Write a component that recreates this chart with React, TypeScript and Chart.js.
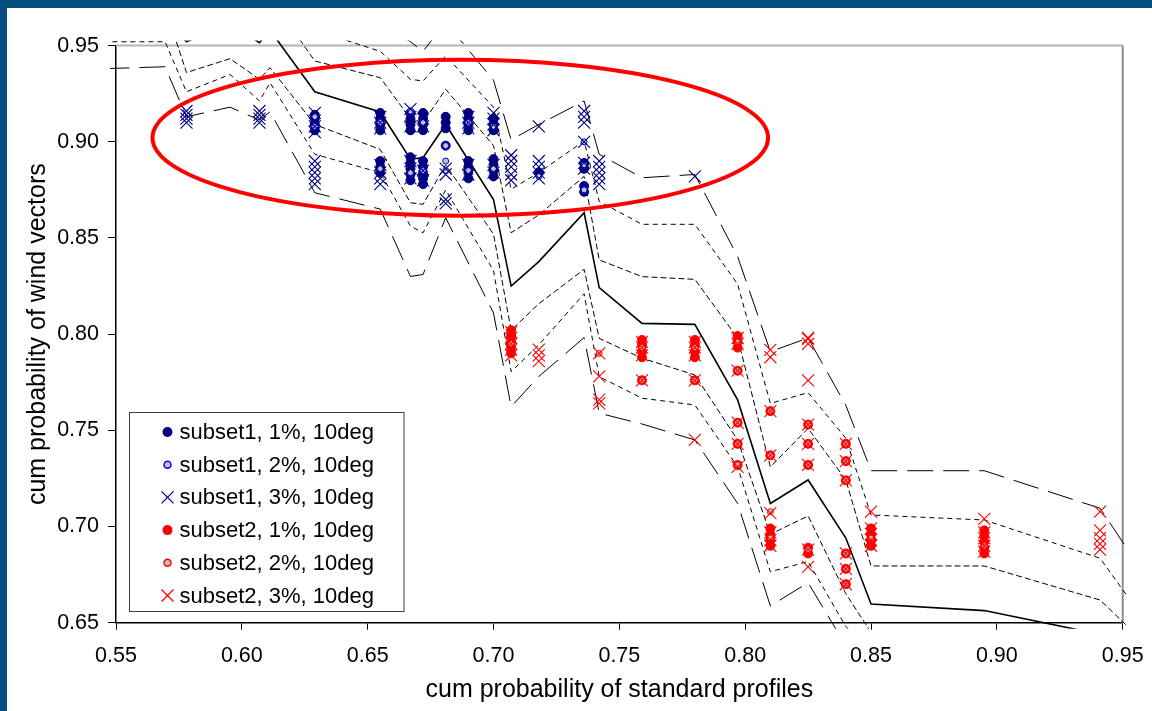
import React, { useEffect, useRef } from 'react';
import { Chart, registerables } from 'chart.js';

Chart.register(...registerables);

const FONT = '"Liberation Sans", Arial, Helvetica, sans-serif';

// ---- axes ----
const xTickValues = [0.55, 0.6, 0.65, 0.7, 0.75, 0.8, 0.85, 0.9, 0.95];
const yTickValues = [0.65, 0.7, 0.75, 0.8, 0.85, 0.9, 0.95];
const xTitle = 'cum probability of standard profiles';
const yTitle = 'cum probability of wind vectors';

// ---- band lines (standard profiles) ----
const lineX = [0.545, 0.5695, 0.578, 0.5953, 0.607, 0.6112, 0.629, 0.655, 0.667, 0.672, 0.681, 0.7, 0.707, 0.718, 0.736, 0.742, 0.759, 0.78, 0.797, 0.81, 0.825, 0.84, 0.85, 0.895, 0.941, 0.952];
const lineCenter = [0.975, 0.965, 0.952, 0.962, 0.9515, 0.958, 0.926, 0.9155, 0.891, 0.8917, 0.909, 0.87, 0.825, 0.8377, 0.8631, 0.8242, 0.8056, 0.8051, 0.7658, 0.712, 0.7242, 0.694, 0.6597, 0.6563, 0.644, 0.64];
const lineUpper1 = [0.99, 0.985, 0.97, 0.978, 0.97, 0.975, 0.942, 0.9333, 0.912, 0.91, 0.9273, 0.898, 0.8527, 0.862, 0.882, 0.8386, 0.8299, 0.8285, 0.798, 0.731, 0.751, 0.7242, 0.6795, 0.6795, 0.6618, 0.648];
const lineUpper2 = [1.0, 1.0, 0.985, 0.99, 0.985, 0.99, 0.958, 0.947, 0.9325, 0.9316, 0.9446, 0.918, 0.8753, 0.884, 0.9004, 0.869, 0.8571, 0.8571, 0.826, 0.764, 0.7696, 0.7459, 0.706, 0.7034, 0.6835, 0.6635];
const lineUpper3 = [1.02, 1.01, 1.0, 1.0, 0.99, 0.99, 0.975, 0.962, 0.952, 0.947, 0.962, 0.932, 0.901, 0.909, 0.9212, 0.8935, 0.8813, 0.883, 0.8403, 0.7909, 0.798, 0.763, 0.729, 0.729, 0.7095, 0.688];
const lineLower1 = [0.975, 0.97, 0.936, 0.9432, 0.9325, 0.9385, 0.909, 0.896, 0.8683, 0.8675, 0.888, 0.852, 0.802, 0.8158, 0.8337, 0.7978, 0.7875, 0.7788, 0.745, 0.696, 0.7055, 0.665, 0.645, 0.64, 0.62, 0.61];
const lineLower2 = [0.952, 0.952, 0.926, 0.935, 0.9212, 0.9307, 0.8935, 0.884, 0.8562, 0.8527, 0.875, 0.833, 0.7805, 0.7944, 0.821, 0.7779, 0.7667, 0.7632, 0.731, 0.6765, 0.6818, 0.648, 0.635, 0.63, 0.61, 0.6];
const lineLower3 = [0.938, 0.939, 0.913, 0.918, 0.9113, 0.9156, 0.8735, 0.865, 0.83, 0.831, 0.8605, 0.811, 0.7623, 0.778, 0.7982, 0.7589, 0.7533, 0.745, 0.712, 0.6587, 0.6708, 0.638, 0.62, 0.615, 0.6, 0.59];

// ---- scatter series ----
const subset1_1pct: [number, number][] = [
  [0.629, 0.906], [0.629, 0.909], [0.629, 0.912], [0.629, 0.914],
  [0.655, 0.906], [0.655, 0.909], [0.655, 0.912], [0.655, 0.915], [0.655, 0.884], [0.655, 0.887], [0.655, 0.89],
  [0.667, 0.906], [0.667, 0.909], [0.667, 0.912], [0.667, 0.915], [0.667, 0.88], [0.667, 0.883], [0.667, 0.886], [0.667, 0.889], [0.667, 0.892],
  [0.672, 0.906], [0.672, 0.909], [0.672, 0.912], [0.672, 0.915], [0.672, 0.878], [0.672, 0.881], [0.672, 0.884], [0.672, 0.887], [0.672, 0.89],
  [0.681, 0.907], [0.681, 0.91], [0.681, 0.913], [0.681, 0.898],
  [0.69, 0.906], [0.69, 0.909], [0.69, 0.912], [0.69, 0.915], [0.69, 0.881], [0.69, 0.884], [0.69, 0.887], [0.69, 0.89],
  [0.7, 0.906], [0.7, 0.909], [0.7, 0.912], [0.7, 0.882], [0.7, 0.885], [0.7, 0.888], [0.7, 0.891],
  [0.718, 0.884], [0.736, 0.886], [0.736, 0.889], [0.736, 0.874], [0.736, 0.877],
];
const subset1_2pct: [number, number][] = [
  [0.629, 0.908], [0.629, 0.913], [0.655, 0.91], [0.655, 0.886], [0.667, 0.916], [0.667, 0.884],
  [0.672, 0.91], [0.672, 0.885], [0.681, 0.898], [0.681, 0.89], [0.681, 0.885], [0.69, 0.91], [0.69, 0.885],
  [0.7, 0.908], [0.7, 0.886], [0.718, 0.882], [0.736, 0.9], [0.736, 0.888], [0.736, 0.875],
];
const subset1_3pct: [number, number][] = [
  [0.578, 0.91], [0.578, 0.912], [0.578, 0.914], [0.578, 0.916],
  [0.607, 0.91], [0.607, 0.912], [0.607, 0.914], [0.607, 0.916],
  [0.629, 0.905], [0.629, 0.908], [0.629, 0.911], [0.629, 0.915], [0.629, 0.878], [0.629, 0.881], [0.629, 0.884], [0.629, 0.887], [0.629, 0.89],
  [0.655, 0.907], [0.655, 0.91], [0.655, 0.913], [0.655, 0.878], [0.655, 0.881], [0.655, 0.884], [0.655, 0.888],
  [0.667, 0.917], [0.667, 0.913], [0.667, 0.908], [0.667, 0.881], [0.667, 0.886], [0.667, 0.89],
  [0.672, 0.908], [0.672, 0.912], [0.672, 0.88], [0.672, 0.885],
  [0.681, 0.886], [0.681, 0.883], [0.681, 0.87], [0.681, 0.868],
  [0.69, 0.907], [0.69, 0.91], [0.69, 0.913], [0.69, 0.883], [0.69, 0.888],
  [0.7, 0.906], [0.7, 0.909], [0.7, 0.912], [0.7, 0.915], [0.7, 0.884], [0.7, 0.888],
  [0.707, 0.88], [0.707, 0.883], [0.707, 0.887], [0.707, 0.89], [0.707, 0.893],
  [0.718, 0.908], [0.718, 0.881], [0.718, 0.884], [0.718, 0.887], [0.718, 0.89],
  [0.736, 0.91], [0.736, 0.913], [0.736, 0.916], [0.736, 0.9], [0.736, 0.886], [0.736, 0.889],
  [0.742, 0.878], [0.742, 0.881], [0.742, 0.884], [0.742, 0.887], [0.742, 0.89],
  [0.78, 0.882],
];
const subset2_1pct: [number, number][] = [
  [0.707, 0.79], [0.707, 0.793], [0.707, 0.796], [0.707, 0.799], [0.707, 0.802],
  [0.759, 0.788], [0.759, 0.791], [0.759, 0.794], [0.759, 0.797], [0.759, 0.776],
  [0.78, 0.788], [0.78, 0.791], [0.78, 0.794], [0.78, 0.797], [0.78, 0.776],
  [0.797, 0.793], [0.797, 0.796], [0.797, 0.799], [0.797, 0.781], [0.797, 0.754], [0.797, 0.743], [0.797, 0.732],
  [0.81, 0.76], [0.81, 0.737], [0.81, 0.69], [0.81, 0.693], [0.81, 0.696], [0.81, 0.699],
  [0.825, 0.753], [0.825, 0.743], [0.825, 0.732], [0.825, 0.686], [0.825, 0.689],
  [0.84, 0.743], [0.84, 0.734], [0.84, 0.724], [0.84, 0.686], [0.84, 0.678], [0.84, 0.67],
  [0.85, 0.69], [0.85, 0.693], [0.85, 0.696], [0.85, 0.699],
  [0.895, 0.686], [0.895, 0.689], [0.895, 0.692], [0.895, 0.695], [0.895, 0.698],
];
const subset2_2pct: [number, number][] = [
  [0.707, 0.795], [0.742, 0.79], [0.759, 0.793], [0.759, 0.776], [0.78, 0.793], [0.78, 0.776],
  [0.797, 0.796], [0.797, 0.781], [0.797, 0.754], [0.797, 0.743], [0.797, 0.732],
  [0.81, 0.7077], [0.81, 0.76], [0.81, 0.737], [0.81, 0.694],
  [0.825, 0.753], [0.825, 0.743], [0.825, 0.732], [0.825, 0.688],
  [0.84, 0.743], [0.84, 0.734], [0.84, 0.724], [0.84, 0.686], [0.84, 0.678], [0.84, 0.67],
  [0.85, 0.694], [0.895, 0.69],
];
const subset2_3pct: [number, number][] = [
  [0.707, 0.789], [0.707, 0.792], [0.707, 0.795], [0.707, 0.798], [0.707, 0.801],
  [0.718, 0.786], [0.718, 0.789], [0.718, 0.792],
  [0.742, 0.79], [0.742, 0.778], [0.742, 0.764], [0.742, 0.766],
  [0.759, 0.789], [0.759, 0.793], [0.759, 0.796], [0.759, 0.776],
  [0.78, 0.789], [0.78, 0.793], [0.78, 0.796], [0.78, 0.776], [0.78, 0.745],
  [0.797, 0.795], [0.797, 0.798], [0.797, 0.781], [0.797, 0.754], [0.797, 0.743], [0.797, 0.731],
  [0.81, 0.7918], [0.81, 0.788], [0.81, 0.76], [0.81, 0.737], [0.81, 0.707], [0.81, 0.69], [0.81, 0.693], [0.81, 0.697],
  [0.825, 0.798], [0.825, 0.795], [0.825, 0.7975], [0.825, 0.776], [0.825, 0.753], [0.825, 0.743], [0.825, 0.732], [0.825, 0.688], [0.825, 0.679],
  [0.84, 0.743], [0.84, 0.734], [0.84, 0.724], [0.84, 0.686], [0.84, 0.678], [0.84, 0.67],
  [0.85, 0.7077], [0.85, 0.69], [0.85, 0.693], [0.85, 0.696], [0.85, 0.699],
  [0.895, 0.704], [0.895, 0.687], [0.895, 0.69], [0.895, 0.694], [0.895, 0.697],
  [0.941, 0.7077], [0.941, 0.698], [0.941, 0.694], [0.941, 0.691], [0.941, 0.688],
];

const legendLabels = [
  'subset1, 1%, 10deg',
  'subset1, 2%, 10deg',
  'subset1, 3%, 10deg',
  'subset2, 1%, 10deg',
  'subset2, 2%, 10deg',
  'subset2, 3%, 10deg',
];

// highlight ellipse, in data units
const ellipseCenterX = 0.6868;
const ellipseCenterY = 0.9021;
const ellipseRadiusX = 0.1223;
const ellipseRadiusY = 0.0405;

const NAVY = '#000080';
const BLUE = '#0000FF';
const RED = '#FF0000';
const GREY = '#C0C0C0';
const FRAME = '#004F7C';

const toPts = (pairs: [number, number][]) => pairs.map(([x, y]) => ({ x, y }));
const linePts = (ys: number[]) => lineX.map((x, i) => ({ x, y: ys[i] }));

type MarkerKind = 'dot' | 'ring' | 'x';
const legendMarkers: { kind: MarkerKind; color: string }[] = [
  { kind: 'dot', color: NAVY },
  { kind: 'ring', color: BLUE },
  { kind: 'x', color: NAVY },
  { kind: 'dot', color: RED },
  { kind: 'ring', color: RED },
  { kind: 'x', color: RED },
];

const framePlugin = {
  id: 'plotFrame',
  beforeDatasetsDraw(chart: any) {
    const { ctx, chartArea } = chart;
    ctx.save();
    ctx.lineWidth = 2;
    ctx.strokeStyle = '#B4B4B4';
    ctx.beginPath();
    ctx.moveTo(chartArea.left, chartArea.top);
    ctx.lineTo(chartArea.right, chartArea.top);
    ctx.stroke();
    ctx.strokeStyle = '#8C8C8C';
    ctx.beginPath();
    ctx.moveTo(chartArea.right, chartArea.top);
    ctx.lineTo(chartArea.right, chartArea.bottom);
    ctx.stroke();
    ctx.restore();
  },
};

const ellipsePlugin = {
  id: 'highlightEllipse',
  afterDatasetsDraw(chart: any) {
    const { ctx } = chart;
    const xs = chart.scales.x;
    const ys = chart.scales.y;
    const cx = xs.getPixelForValue(ellipseCenterX);
    const cy = ys.getPixelForValue(ellipseCenterY);
    const rx = xs.getPixelForValue(ellipseCenterX + ellipseRadiusX) - cx;
    const ry = cy - ys.getPixelForValue(ellipseCenterY + ellipseRadiusY);
    ctx.save();
    ctx.strokeStyle = RED;
    ctx.lineWidth = 4;
    ctx.beginPath();
    ctx.ellipse(cx, cy, rx, ry, 0, 0, Math.PI * 2);
    ctx.stroke();
    ctx.restore();
  },
};

const legendPlugin = {
  id: 'insideLegend',
  afterDraw(chart: any) {
    const { ctx, chartArea } = chart;
    const left = chartArea.left + 13.5;
    const top = 412.5;
    const w = 274.5;
    const h = 199;
    ctx.save();
    ctx.fillStyle = '#FFFFFF';
    ctx.fillRect(left, top, w, h);
    ctx.strokeStyle = '#3C3C3C';
    ctx.lineWidth = 1;
    ctx.strokeRect(left, top, w, h);
    ctx.font = `22px ${FONT}`;
    ctx.textBaseline = 'middle';
    ctx.textAlign = 'left';
    legendLabels.forEach((label, i) => {
      const y = top + 19.5 + i * 32.7;
      const mx = left + 38;
      const m = legendMarkers[i];
      if (m.kind === 'dot') {
        ctx.fillStyle = m.color;
        ctx.beginPath();
        ctx.arc(mx, y, 5, 0, Math.PI * 2);
        ctx.fill();
      } else if (m.kind === 'ring') {
        ctx.fillStyle = GREY;
        ctx.strokeStyle = m.color;
        ctx.lineWidth = 1.5;
        ctx.beginPath();
        ctx.arc(mx, y, 3.5, 0, Math.PI * 2);
        ctx.fill();
        ctx.stroke();
      } else {
        ctx.strokeStyle = m.color;
        ctx.lineWidth = 1.3;
        ctx.beginPath();
        ctx.moveTo(mx - 6, y - 6);
        ctx.lineTo(mx + 6, y + 6);
        ctx.moveTo(mx + 6, y - 6);
        ctx.lineTo(mx - 6, y + 6);
        ctx.stroke();
      }
      ctx.fillStyle = '#000000';
      ctx.fillText(label, left + 50, y + 1);
    });
    ctx.restore();
  },
};

export default function App() {
  const canvasRef = useRef<HTMLCanvasElement | null>(null);

  useEffect(() => {
    document.body.style.margin = '0';
    const canvas = canvasRef.current;
    if (!canvas) return;

    const lineClip = { left: 6, top: 5, right: 6, bottom: 6 };
    const bandLine = (ys: number[], dash: number[], width = 1) => ({
      type: 'scatter' as const,
      data: linePts(ys),
      showLine: true,
      pointRadius: 0,
      borderColor: '#000000',
      borderWidth: width,
      borderDash: dash,
      tension: 0,
      clip: lineClip,
    });

    const dot = (pairs: [number, number][], color: string) => ({
      data: toPts(pairs),
      pointStyle: 'circle',
      pointRadius: 4.5,
      backgroundColor: color,
      borderColor: color,
      borderWidth: 1,
      showLine: false,
    });
    const ring = (pairs: [number, number][], color: string) => ({
      data: toPts(pairs),
      pointStyle: 'circle',
      pointRadius: 3,
      backgroundColor: GREY,
      borderColor: color,
      borderWidth: 1,
      showLine: false,
    });
    const cross = (pairs: [number, number][], color: string) => ({
      data: toPts(pairs),
      pointStyle: 'crossRot',
      pointRadius: 8.5,
      backgroundColor: color,
      borderColor: color,
      borderWidth: 1.1,
      showLine: false,
    });

    const chart = new Chart(canvas, {
      type: 'scatter',
      data: {
        datasets: [
          { label: legendLabels[2], ...cross(subset1_3pct, NAVY) },
          { label: legendLabels[5], ...cross(subset2_3pct, RED) },
          { label: legendLabels[1], ...ring(subset1_2pct, BLUE) },
          { label: legendLabels[4], ...ring(subset2_2pct, RED) },
          { label: legendLabels[0], ...dot(subset1_1pct, NAVY) },
          { label: legendLabels[3], ...dot(subset2_1pct, RED) },
          { label: 'center', ...bandLine(lineCenter, [], 1.6) },
          { label: 'upper1', ...bandLine(lineUpper1, [6, 3]) },
          { label: 'lower1', ...bandLine(lineLower1, [6, 3]) },
          { label: 'upper2', ...bandLine(lineUpper2, [5, 4]) },
          { label: 'lower2', ...bandLine(lineLower2, [5, 4]) },
          { label: 'upper3', ...bandLine(lineUpper3, [26, 10]) },
          { label: 'lower3', ...bandLine(lineLower3, [26, 10]) },
        ] as any,
      },
      options: {
        animation: false,
        responsive: false,
        maintainAspectRatio: false,
        events: [],
        layout: { padding: { left: 0, top: 45.6, right: 29.3, bottom: 0 } },
        plugins: {
          legend: { display: false },
          tooltip: { enabled: false },
        },
        scales: {
          x: {
            type: 'linear',
            min: 0.55,
            max: 0.95,
            afterBuildTicks: (s: any) => {
              s.ticks = xTickValues.map((v) => ({ value: v }));
            },
            afterFit: (s: any) => {
              s.height = 88.3;
              s.paddingLeft = 0;
              s.paddingRight = 0;
            },
            ticks: {
              autoSkip: false,
              maxRotation: 0,
              padding: 13,
              color: '#000000',
              font: { family: FONT, size: 21.5 },
              callback: (v: any) => Number(v).toFixed(2),
            },
            grid: { drawOnChartArea: false, drawTicks: true, tickLength: 7, color: '#000000', lineWidth: 1 },
            border: { display: true, color: '#000000', width: 1.5 },
            title: {
              display: true,
              text: xTitle,
              color: '#000000',
              font: { family: FONT, size: 25 },
              padding: { top: 0, bottom: 6 },
            },
          },
          y: {
            type: 'linear',
            min: 0.65,
            max: 0.95,
            afterBuildTicks: (s: any) => {
              s.ticks = yTickValues.map((v) => ({ value: v }));
            },
            afterFit: (s: any) => {
              s.width = 116;
              s.paddingTop = 0;
              s.paddingBottom = 0;
            },
            ticks: {
              autoSkip: false,
              padding: 9,
              color: '#000000',
              font: { family: FONT, size: 21.5 },
              callback: (v: any) => Number(v).toFixed(2),
            },
            grid: { drawOnChartArea: false, drawTicks: true, tickLength: 8, color: '#000000', lineWidth: 1 },
            border: { display: true, color: '#000000', width: 1.5 },
            title: {
              display: true,
              text: yTitle,
              color: '#000000',
              font: { family: FONT, size: 25 },
              padding: { top: 23, bottom: 0 },
            },
          },
        },
      } as any,
      plugins: [framePlugin, ellipsePlugin, legendPlugin],
    });

    return () => {
      chart.destroy();
    };
  }, []);

  return (
    <div style={{ position: 'relative', width: 1152, height: 711, background: '#FFFFFF', overflow: 'hidden' }}>
      <canvas ref={canvasRef} width={1152} height={711} style={{ position: 'absolute', left: 0, top: 0, width: 1152, height: 711 }} />
      <div style={{ position: 'absolute', left: 0, top: 0, width: 1152, height: 8, background: FRAME }} />
      <div style={{ position: 'absolute', left: 0, top: 0, width: 7, height: 711, background: FRAME }} />
    </div>
  );
}
